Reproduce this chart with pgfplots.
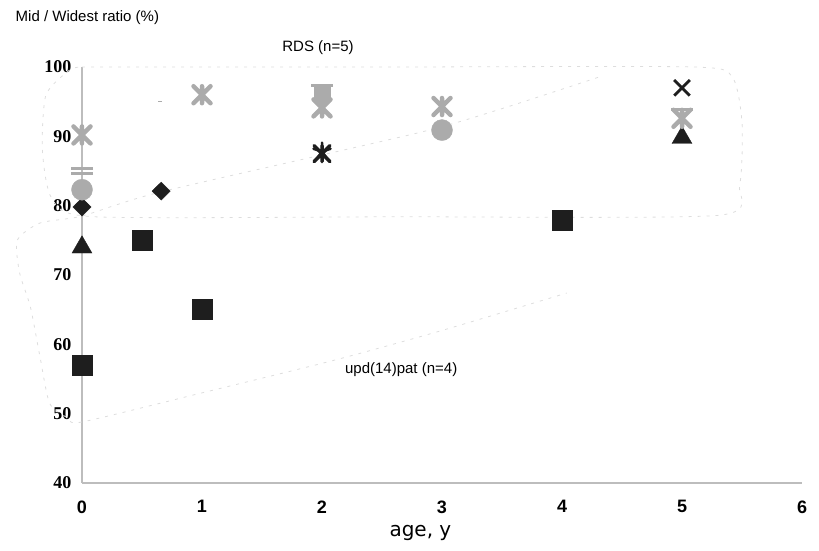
\documentclass[border=0pt]{standalone}
\usepackage{pgfplots}
\pgfplotsset{compat=1.18}
\usepackage{fontspec}
\setmainfont{Liberation Sans}
\newfontfamily\yfont{Liberation Serif}
\newfontfamily\labfont{DejaVu Sans}
\definecolor{blk}{HTML}{1E1E1E}
\definecolor{gry}{HTML}{ABABAB}
\definecolor{axc}{HTML}{BDBDBD}
\definecolor{loopc}{HTML}{DDDDDD}
\pgfdeclareplotmark{xstar}{%
  \pgfpathmoveto{\pgfqpoint{-\pgfplotmarksize}{-\pgfplotmarksize}}%
  \pgfpathlineto{\pgfqpoint{\pgfplotmarksize}{\pgfplotmarksize}}%
  \pgfpathmoveto{\pgfqpoint{-\pgfplotmarksize}{\pgfplotmarksize}}%
  \pgfpathlineto{\pgfqpoint{\pgfplotmarksize}{-\pgfplotmarksize}}%
  \pgfpathmoveto{\pgfqpoint{0pt}{-\pgfplotmarksize}}%
  \pgfpathlineto{\pgfqpoint{0pt}{\pgfplotmarksize}}%
  \pgfusepathqstroke}
\begin{document}
\begin{tikzpicture}
\useasboundingbox (-82pt,-68pt) rectangle (737pt,483pt);
\begin{axis}[
  width=720pt, height=416pt, scale only axis,
  xmin=0, xmax=6, ymin=40, ymax=100,
  axis lines*=left,
  axis line style={axc, line width=1.2pt},
  xtick={0,1,2,3,4,5,6}, ytick={40,50,60,70,80,90,100},
  major tick length=0pt,
  /pgf/number format/assume math mode=true,
  xticklabel style={font=\fontsize{18}{18}\selectfont\bfseries, yshift=-14pt},
  yticklabel style={font=\yfont\fontsize{18}{18}\selectfont\bfseries, xshift=-7pt},
  clip=false,
]
% hand-drawn enclosures (faint dashed)
\addplot[loopc, dash pattern=on 3pt off 6pt, line width=0.8pt, smooth, tension=0.4, mark=none, forget plot] coordinates {
  (0,100) (2.6,100) (5.1,100) (5.42,98.5) (5.5,92) (5.48,83) (5.3,78.6) (2.6,78.4) (0.1,78.4) (-0.25,81) (-0.33,88) (-0.3,96) (-0.1,99.6) (0,100)};
\addplot[loopc, dash pattern=on 3pt off 6pt, line width=0.8pt, smooth, tension=0.4, mark=none, forget plot] coordinates {
  (4.3,98.5) (3.5,94) (2.8,90.5) (0.66,82) (0,78.5) (-0.35,77.5) (-0.54,75) (-0.52,70.3) (-0.43,65.4) (-0.35,58.2) (-0.27,51.5) (-0.12,49.4) (0,48.8) (1,53) (2.1,57.7) (3.0,62) (4.04,67.4)};
% black series
\addplot[only marks, mark=square*, mark size=10pt, blk, mark options={fill=blk, line width=0.4pt}] coordinates {(0,57) (0.5,75) (1,65.1) (4,77.9)};
\addplot[only marks, mark=triangle*, mark size=11.5pt, blk, mark options={fill=blk, line width=0.4pt}] coordinates {(0,74) (5,89.8)};
\addplot[only marks, mark=diamond*, mark size=9pt, blk, mark options={fill=blk, line width=0.4pt, xscale=1.35}] coordinates {(0,79.8) (0.66,82.1)};
\addplot[only marks, mark=x, mark size=11pt, blk, mark options={line width=2.8pt}] coordinates {(5,97)};
\addplot[only marks, mark=xstar, mark size=8pt, blk, mark options={line width=3.5pt, line cap=round}] coordinates {(2,87.5)};
\addplot[only marks, mark=star, mark size=9pt, blk, mark options={line width=2.5pt, line cap=round}] coordinates {(2,87.8)};
% grey series
\addplot[only marks, mark=*, mark size=10.5pt, gry, mark options={fill=gry, draw=gry}] coordinates {(0,82.3) (3,90.9)};
\addplot[only marks, mark=xstar, mark size=8.5pt, gry, mark options={line width=4.5pt, line cap=round}] coordinates {(0,90.2) (1,96) (2,94.1) (3,94.3) (5,92.6)};
\addplot[only marks, mark=square*, mark size=8pt, gry, mark options={fill=gry, draw=gry}] coordinates {(2,96.2)};
\addplot[only marks, mark=-, mark size=11pt, gry, mark options={line width=3pt}] coordinates {(0,85.4) (0,84.6) (2,97.3) (5,93.8)};
\addplot[only marks, mark=-, mark size=2pt, gry, mark options={line width=1.5pt}] coordinates {(0.65,95)};
% texts
\node[anchor=west, font=\fontsize{15}{15}\selectfont] at (axis description cs:-0.097,1.118) {Mid / Widest ratio (\%)};
\node[font=\fontsize{15}{15}\selectfont] at (axis cs:1.967,102.74) {RDS (n=5)};
\node[font=\fontsize{15}{15}\selectfont] at (axis cs:2.66,56.4) {upd(14)pat (n=4)};
\node[font=\labfont\fontsize{20}{20}\selectfont] at (axis cs:2.82,32.8) {age, y};
\end{axis}
\end{tikzpicture}
\end{document}
